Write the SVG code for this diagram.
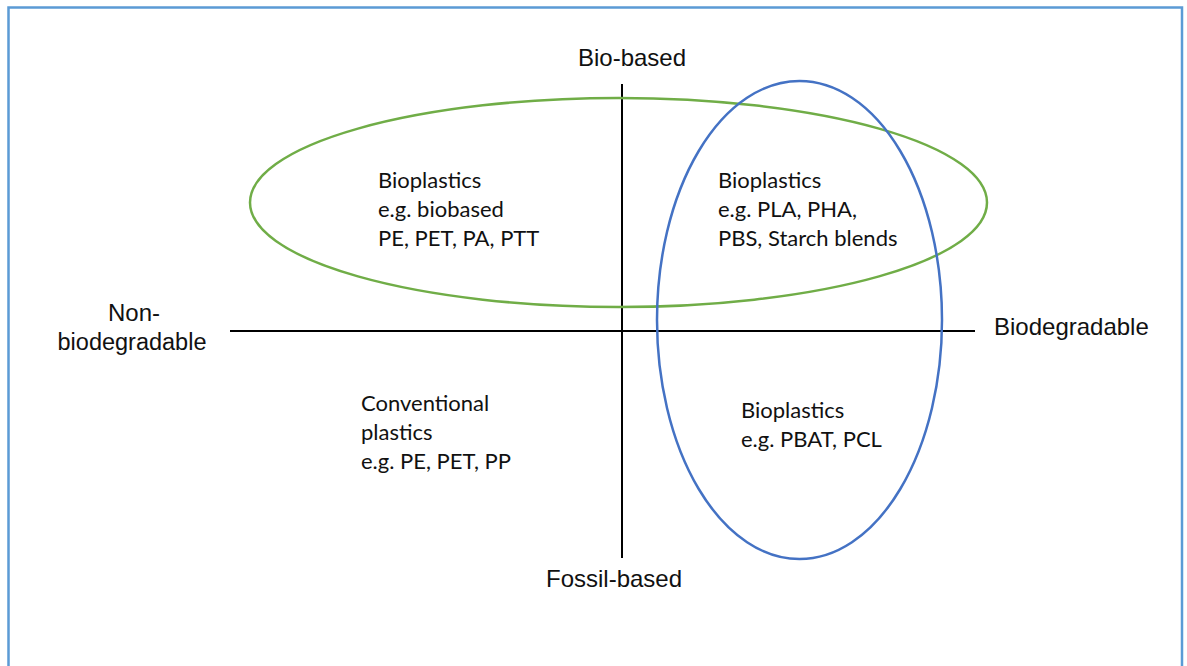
<svg xmlns="http://www.w3.org/2000/svg" width="1187" height="666" viewBox="0 0 1187 666">
  <style>
    .axis { stroke: #000; stroke-width: 2; }
    .axislbl { font-family: "Liberation Sans", Arial, sans-serif; font-size: 24px; fill: #111; }
    .q { font-family: "Lato", "Open Sans", sans-serif; font-size: 22px; fill: #111; }
    .green { fill: none; stroke: #70ad47; stroke-width: 2.5; }
    .blue { fill: none; stroke: #4472c4; stroke-width: 2.5; }
  </style>
  <rect width="1187" height="666" fill="#fff"/>
  <!-- frame -->
  <path d="M8.5 670 V7.5 H1182 V670" fill="none" stroke="#5b9bd5" stroke-width="2.5"/>

  <g id="connectors">
    <line class="axis" x1="622" y1="84" x2="622" y2="558"/>
    <line class="axis" x1="230" y1="331" x2="975" y2="331"/>
  </g>

  <g id="bio-based-set">
    <ellipse class="green" cx="618.5" cy="202.5" rx="368.5" ry="104.5"/>
  </g>
  <g id="biodegradable-set">
    <ellipse class="blue" cx="799.5" cy="320" rx="142.5" ry="239"/>
  </g>

  <g id="axis-labels" class="axislbl">
    <text x="632" y="66" text-anchor="middle">Bio-based</text>
    <text x="614" y="587" text-anchor="middle">Fossil-based</text>
    <text x="134" y="321" text-anchor="middle">Non-</text>
    <text x="132" y="350" text-anchor="middle" font-size="23.5">biodegradable</text>
    <text x="994" y="335">Biodegradable</text>
  </g>

  <g id="q-biobased-nonbiodegradable" class="q">
    <text x="378" y="188">Bioplastics</text>
    <text x="378" y="217">e.g. biobased</text>
    <text x="378" y="246">PE, PET, PA, PTT</text>
  </g>
  <g id="q-biobased-biodegradable" class="q">
    <text x="718" y="188">Bioplastics</text>
    <text x="718" y="217">e.g. PLA, PHA,</text>
    <text x="718" y="246">PBS, Starch blends</text>
  </g>
  <g id="q-fossil-nonbiodegradable" class="q">
    <text x="361" y="411">Conventional</text>
    <text x="361" y="440">plastics</text>
    <text x="361" y="469">e.g. PE, PET, PP</text>
  </g>
  <g id="q-fossil-biodegradable" class="q">
    <text x="741" y="418">Bioplastics</text>
    <text x="741" y="447">e.g. PBAT, PCL</text>
  </g>
</svg>
